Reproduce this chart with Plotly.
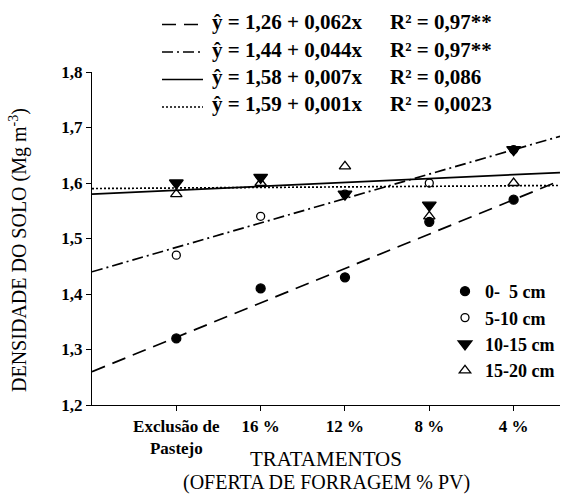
import plotly.graph_objects as go

# ---- data ----
x_pos = [1, 2, 3, 4, 5]
tick_labels = ["Exclusão de<br>Pastejo", "16 %", "12 %", "8 %", "4 %"]
depths = ["0-  5 cm", "5-10 cm", "10-15 cm", "15-20 cm"]
d_0_5 = [1.32, 1.41, 1.43, 1.53, 1.57]
d_5_10 = [1.47, 1.54, 1.58, 1.60, 1.66]
d_10_15 = [1.60, 1.61, 1.58, 1.56, 1.66]
d_15_20 = [1.58, 1.60, 1.63, 1.54, 1.60]
intercepts = [1.26, 1.44, 1.58, 1.59]
slopes = [0.062, 0.044, 0.007, 0.001]
eq_text = ["ŷ = 1,26 + 0,062x", "ŷ = 1,44 + 0,044x",
           "ŷ = 1,58 + 0,007x", "ŷ = 1,59 + 0,001x"]
r2_text = ["R² = 0,97**", "R² = 0,97**", "R² = 0,086", "R² = 0,0023"]

FONT = "Times New Roman, Liberation Serif, serif"
x_lo, x_hi = 0, 5.55
y_lo, y_hi = 1.2, 1.8
dashes = ["14px,8px", "11px,4px,2px,4px", "solid", "2px,2px"]

# layout geometry (pixels)
W, H = 562, 497
ML, MR, MT, MB = 92, 2, 72, 92
PW, PH = W - ML - MR, H - MT - MB


def px_x(p):
    return (p - ML) / PW


def px_y(p):
    return (H - MB - p) / PH


fig = go.Figure()

for a, b, lab, d in zip(intercepts, slopes, eq_text, dashes):
    xs = [x_lo, x_hi]
    ys = [a + b * xv for xv in xs]
    fig.add_trace(go.Scatter(x=xs, y=ys, mode="lines", name=lab,
                             line=dict(color="black", width=1.7, dash=d),
                             showlegend=False))

series = [d_0_5, d_5_10, d_10_15, d_15_20]
symbols = ["circle", "circle-open", "triangle-down", "triangle-up-open"]
sizes = [9, 8, 12, 10]
for vals, name, sym, sz in zip(series, depths, symbols, sizes):
    fig.add_trace(go.Scatter(x=x_pos, y=vals, mode="markers", name=name,
                             marker=dict(symbol=sym, size=sz, color="black",
                                         line=dict(color="black", width=1.3))))

# top equation legend (drawn by hand)
shapes = []
annotations = []
row_y = [22, 49.5, 77, 104.5]
for ry, d, eq, r2 in zip(row_y, dashes, eq_text, r2_text):
    shapes.append(dict(type="line", xref="paper", yref="paper",
                       x0=px_x(162), x1=px_x(203), y0=px_y(ry + 2.5), y1=px_y(ry + 2.5),
                       line=dict(color="black", width=1.5, dash=d)))
    annotations.append(dict(xref="paper", yref="paper", x=px_x(210), y=px_y(ry),
                            xanchor="left", yanchor="middle", showarrow=False,
                            text=eq, font=dict(family=FONT, size=21, weight="bold")))
    annotations.append(dict(xref="paper", yref="paper", x=px_x(388), y=px_y(ry),
                            xanchor="left", yanchor="middle", showarrow=False,
                            text=r2, font=dict(family=FONT, size=21, weight="bold")))

# axis titles
annotations.append(dict(xref="paper", yref="paper", x=0.5, y=px_y(459),
                        xanchor="center", yanchor="middle", showarrow=False,
                        text="TRATAMENTOS", font=dict(family=FONT, size=21)))
annotations.append(dict(xref="paper", yref="paper", x=0.5, y=px_y(482),
                        xanchor="center", yanchor="middle", showarrow=False,
                        text="(OFERTA DE FORRAGEM % PV)", font=dict(family=FONT, size=20)))
annotations.append(dict(xref="paper", yref="paper", x=px_x(19), y=px_y(250),
                        xanchor="center", yanchor="middle", showarrow=False,
                        textangle=-90,
                        text="DENSIDADE DO SOLO (Mg m<sup>-3</sup>)",
                        font=dict(family=FONT, size=20)))

fig.update_layout(
    width=W, height=H,
    margin=dict(l=ML, r=MR, t=MT, b=MB),
    paper_bgcolor="white", plot_bgcolor="white",
    separators=",.",
    font=dict(family=FONT, color="black"),
    shapes=shapes, annotations=annotations,
    showlegend=True,
    legend=dict(x=1.0, y=px_y(273), xanchor="right", yanchor="top",
                font=dict(family=FONT, size=18, weight="bold"),
                bgcolor="rgba(0,0,0,0)", tracegroupgap=0),
    xaxis=dict(range=[x_lo, x_hi], tickvals=x_pos, ticktext=tick_labels,
               showline=True, linecolor="black", linewidth=1.2,
               ticks="outside", ticklen=5, tickcolor="black",
               showgrid=False, zeroline=False,
               tickfont=dict(family=FONT, size=17, weight="bold")),
    yaxis=dict(range=[y_lo, y_hi], dtick=0.1, tickformat=".1f",
               showline=True, linecolor="black", linewidth=1.2,
               ticks="outside", ticklen=5, tickcolor="black",
               showgrid=False, zeroline=False,
               tickfont=dict(family=FONT, size=17, weight="bold")),
)

fig.write_html("out.html")
